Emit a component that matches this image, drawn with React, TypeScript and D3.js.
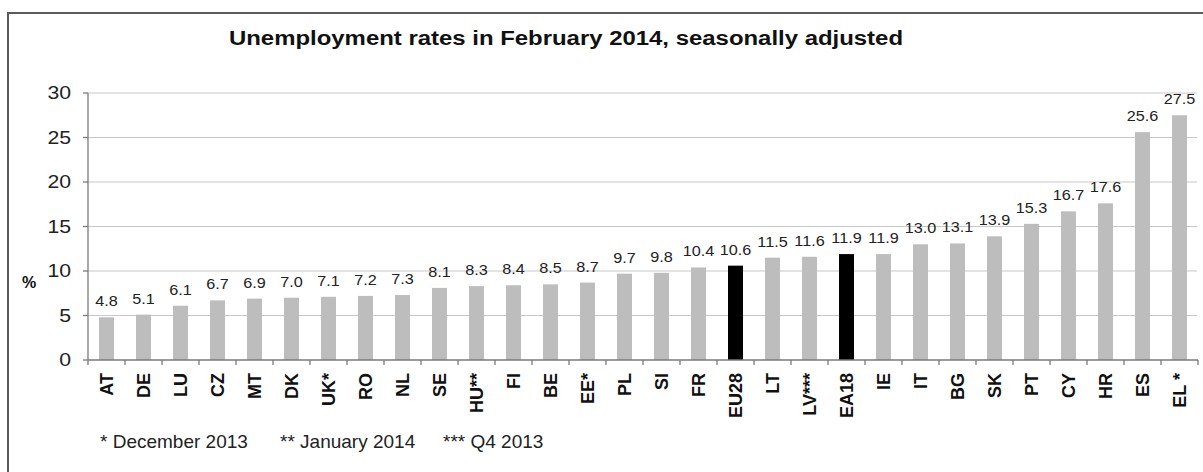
import React from "react";
import * as d3 from "d3";

const categories = ["AT","DE","LU","CZ","MT","DK","UK*","RO","NL","SE","HU**","FI","BE","EE*","PL","SI","FR","EU28","LT","LV***","EA18","IE","IT","BG","SK","PT","CY","HR","ES","EL *"];
const values = [4.8,5.1,6.1,6.7,6.9,7.0,7.1,7.2,7.3,8.1,8.3,8.4,8.5,8.7,9.7,9.8,10.4,10.6,11.5,11.6,11.9,11.9,13.0,13.1,13.9,15.3,16.7,17.6,25.6,27.5];
const highlighted = ["EU28", "EA18"];
const yTicks = [0, 5, 10, 15, 20, 25, 30];
const title = "Unemployment rates in February 2014, seasonally adjusted";
const footnotes = ["* December 2013", "** January 2014", "*** Q4 2013"];
const footnoteX = [100, 280, 443];

const W = 1203;
const H = 472;
const FONT = "'Liberation Sans', Arial, Helvetica, sans-serif";

export default function App() {
  const x = d3.scaleBand<string>().domain(categories).range([88, 1198]).padding(0);
  const y = d3.scaleLinear().domain([0, 30]).range([360, 93]);
  const bw = x.bandwidth() * 0.405;
  const boundaries = categories.map((c) => x(c)!).concat([x.range()[1]]);

  return (
    <svg
      width={W}
      height={H}
      style={{ position: "absolute", left: 0, top: 0, background: "#fff" }}
      fontFamily={FONT}
    >
      <rect x={0} y={0} width={W} height={H} fill="#fff" />
      <path d={`M8,${H}V13H${W}`} fill="none" stroke="#5a5a5a" strokeWidth={2} />

      <text
        transform={`translate(566,45) scale(1.14,1)`}
        textAnchor="middle"
        fontSize={21}
        fontWeight="bold"
        fill="#111"
      >
        {title}
      </text>

      {/* gridlines */}
      {yTicks.filter((t) => t > 0).map((t) => (
        <line key={"g" + t} x1={88} x2={1197} y1={y(t)} y2={y(t)} stroke="#c8c8c8" strokeWidth={1} />
      ))}

      {/* bars */}
      {categories.map((c, i) => (
        <rect
          key={c}
          x={x(c)! + (x.bandwidth() - bw) / 2}
          y={y(values[i])}
          width={bw}
          height={y(0) - y(values[i])}
          fill={highlighted.includes(c) ? "#000" : "#bdbdbd"}
        />
      ))}

      {/* value labels */}
      {categories.map((c, i) => (
        <text
          key={"v" + c}
          transform={`translate(${x(c)! + x.bandwidth() / 2},${y(values[i]) - 11}) scale(1.08,1)`}
          textAnchor="middle"
          fontSize={15}
          fill="#222"
        >
          {values[i].toFixed(1)}
        </text>
      ))}

      {/* y axis */}
      <line x1={88} x2={88} y1={y(30)} y2={y(0)} stroke="#7a7a7a" strokeWidth={1.3} />
      {yTicks.map((t) => (
        <g key={"yt" + t}>
          <line x1={83} x2={88} y1={y(t)} y2={y(t)} stroke="#7a7a7a" strokeWidth={1.3} />
          <text
            transform={`translate(71,${y(t)}) scale(1.18,1)`}
            dy="0.36em"
            textAnchor="end"
            fontSize={18}
            fill="#222"
          >
            {t}
          </text>
        </g>
      ))}
      <text x={29} y={288} textAnchor="middle" fontSize={16} fontWeight="bold" fill="#111">%</text>

      {/* x axis */}
      <line x1={88} x2={1198} y1={y(0)} y2={y(0)} stroke="#7a7a7a" strokeWidth={1.3} />
      {boundaries.map((b, i) => (
        <line key={"xt" + i} x1={b} x2={b} y1={y(0)} y2={y(0) + 5} stroke="#7a7a7a" strokeWidth={1.3} />
      ))}
      {categories.map((c) => (
        <text
          key={"xl" + c}
          transform={`translate(${x(c)! + x.bandwidth() / 2},${y(0) + 13}) rotate(-90)`}
          dy="0.36em"
          textAnchor="end"
          fontSize={18}
          fontWeight="bold"
          fill="#111"
        >
          {c}
        </text>
      ))}

      {/* footnotes */}
      {footnotes.map((f, i) => (
        <text key={"f" + i} x={footnoteX[i]} y={448} fontSize={19} fill="#222">
          {f}
        </text>
      ))}
    </svg>
  );
}
